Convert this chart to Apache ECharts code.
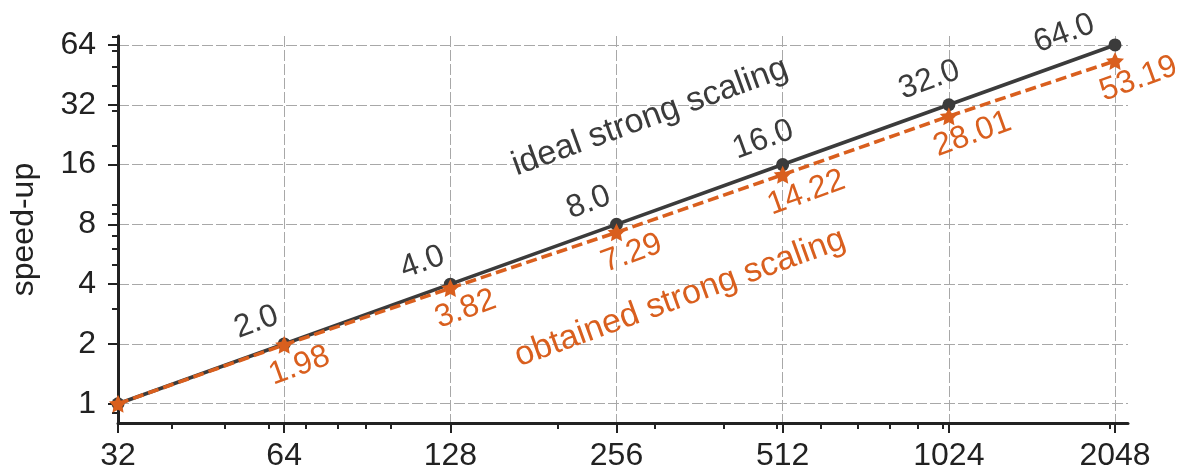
<!DOCTYPE html>
<html>
<head>
<meta charset="utf-8">
<script src="https://cdn.jsdelivr.net/npm/echarts@6/dist/echarts.min.js"></script>
<style>
  html, body { margin: 0; padding: 0; background: #fff; }
  #chart { width: 1180px; height: 474px; }
</style>
</head>
<body>
<div id="chart"></div>
<script>
// number of processes (x) and measured / ideal speed-up (y)
const processes = [32, 64, 128, 256, 512, 1024, 2048];
const idealSpeedup = [1.0, 2.0, 4.0, 8.0, 16.0, 32.0, 64.0];
const obtainedSpeedup = [1.0, 1.98, 3.82, 7.29, 14.22, 28.01, 53.19];

// tick positions
const xMajorTicks = [32, 64, 128, 256, 512, 1024, 2048];
const yMajorTicks = [1, 2, 4, 8, 16, 32, 64];
const xMinorTicks = [40, 50, 60, 70, 80, 90, 100, 200, 300, 400, 500, 600, 700, 800, 900, 1000, 2000];
const yMinorTicks = [0.9, 3, 5, 6, 7, 9, 10, 20, 30, 40, 50, 60, 70];

const FONT = '"Liberation Sans", Arial, sans-serif';
const INK = '#222222';
const GREY = '#3b3b3b';
const ORANGE = '#d95f1e';
const ROT = 20;
const STAR = 'path://M0,-10L2.9,-4L9.51,-3.09L4.7,1.5L5.88,8.09L0,5L-5.88,8.09L-4.7,1.5L-9.51,-3.09L-2.9,-4Z';

const X_RANGE = { min: 32, max: 2162 };
const Y_RANGE = { min: 0.8, max: 71 };

const gridLine = { show: true, lineStyle: { color: '#a8a8a8', width: 1, type: [11, 3] } };

function majorAxis(range, ticks, extra) {
  return Object.assign({
    type: 'log', logBase: 2, min: range.min, max: range.max,
    axisLine: { show: true, onZero: false, lineStyle: { color: INK, width: 3 } },
    axisTick: { show: true, inside: false, length: 10, customValues: ticks, lineStyle: { color: INK, width: 2 } },
    axisLabel: { customValues: ticks, color: INK, fontSize: 32, fontFamily: FONT, formatter: v => String(v) },
    splitLine: gridLine,
    minorTick: { show: false }, minorSplitLine: { show: false }
  }, extra);
}

function minorAxis(range, ticks, extra) {
  return Object.assign({
    type: 'log', logBase: 2, min: range.min, max: range.max,
    axisLine: { show: false, onZero: false },
    axisTick: { show: true, inside: false, length: 6, customValues: ticks, lineStyle: { color: INK, width: 2 } },
    axisLabel: { show: false },
    splitLine: { show: false }
  }, extra);
}

const idealData = processes.map((p, i) => ({
  value: [p, idealSpeedup[i]],
  label: { show: i > 0, offset: i === processes.length - 1 ? [-75, -28] : [-41, -30] }
}));
const obtainedData = processes.map((p, i) => ({
  value: [p, obtainedSpeedup[i]],
  label: { show: i > 0 }
}));

const chart = echarts.init(document.getElementById('chart'), null, { renderer: 'canvas' });
chart.setOption({
  backgroundColor: '#ffffff',
  animation: false,
  grid: { left: 117, right: 52, top: 36, bottom: 51, containLabel: false },
  xAxis: [
    majorAxis(X_RANGE, xMajorTicks, { position: 'bottom', axisLabel: { customValues: xMajorTicks, color: INK, fontSize: 32, fontFamily: FONT, margin: 17, formatter: v => String(v) } }),
    minorAxis(X_RANGE, xMinorTicks, { position: 'bottom' })
  ],
  yAxis: [
    majorAxis(Y_RANGE, yMajorTicks, {
      position: 'left',
      axisLabel: { customValues: yMajorTicks, color: INK, fontSize: 32, fontFamily: FONT, margin: 22, formatter: v => String(v) },
      name: 'speed-up', nameLocation: 'middle', nameGap: 78,
      nameTextStyle: { color: INK, fontSize: 32, fontFamily: FONT }
    }),
    minorAxis(Y_RANGE, yMinorTicks, { position: 'left' })
  ],
  series: [
    {
      name: 'ideal strong scaling',
      type: 'line', xAxisIndex: 0, yAxisIndex: 0,
      data: idealData,
      clip: false, z: 3,
      symbol: 'circle', symbolSize: 13,
      itemStyle: { color: GREY },
      lineStyle: { color: GREY, width: 3.6 },
      label: {
        show: true, position: 'inside', rotate: ROT, align: 'left', verticalAlign: 'middle',
        color: GREY, fontSize: 32, fontFamily: FONT,
        formatter: p => p.value[1].toFixed(1)
      }
    },
    {
      name: 'obtained strong scaling',
      type: 'line', xAxisIndex: 0, yAxisIndex: 0,
      data: obtainedData,
      clip: false, z: 4,
      symbol: STAR, symbolSize: 18,
      itemStyle: { color: ORANGE },
      lineStyle: { color: ORANGE, width: 3.6, type: [11, 5] },
      label: {
        show: true, position: 'inside', rotate: ROT, align: 'left', verticalAlign: 'middle',
        offset: [-24, 25],
        color: ORANGE, fontSize: 32, fontFamily: FONT,
        formatter: p => p.value[1].toFixed(2)
      }
    }
  ],
  graphic: [
    {
      type: 'text', x: 650, y: 117, rotation: ROT * Math.PI / 180, z: 10,
      style: { text: 'ideal strong scaling', fill: GREY, fontSize: 34, fontFamily: FONT, align: 'center', verticalAlign: 'middle' }
    },
    {
      type: 'text', x: 680, y: 298, rotation: ROT * Math.PI / 180, z: 10,
      style: { text: 'obtained strong scaling', fill: ORANGE, fontSize: 34, fontFamily: FONT, align: 'center', verticalAlign: 'middle' }
    }
  ]
});
</script>
</body>
</html>
